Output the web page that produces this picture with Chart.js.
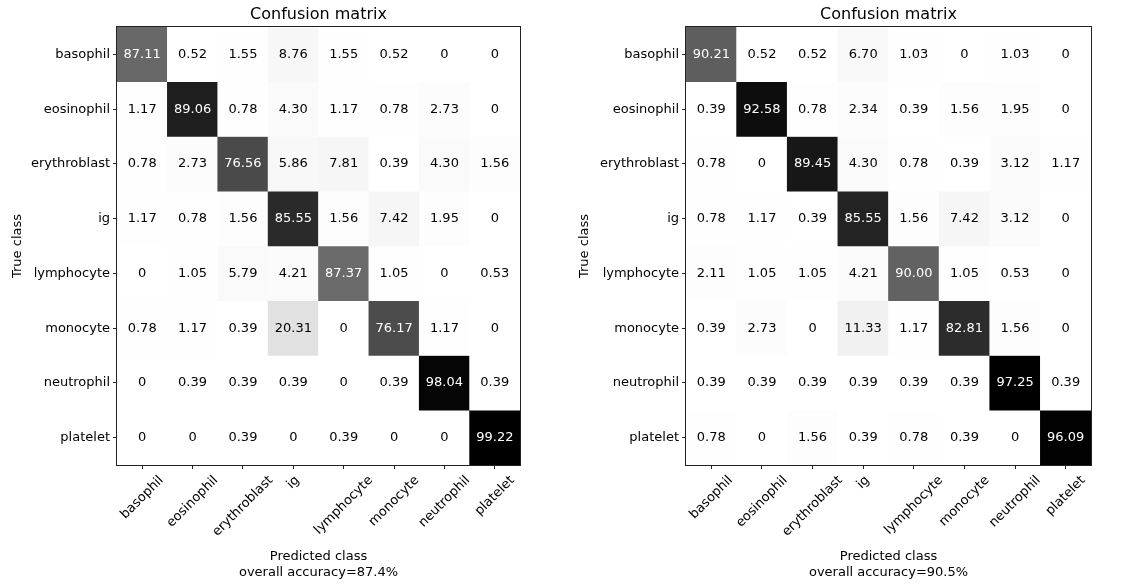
<!DOCTYPE html>
<html>
<head>
<meta charset="utf-8">
<script src="https://cdn.jsdelivr.net/npm/chart.js@4.4.0/dist/chart.umd.min.js"></script>
<style>
  html, body { margin: 0; padding: 0; background: #fff; }
  canvas { position: absolute; top: 0; }
</style>
</head>
<body>
<canvas id="cmLeft" width="567" height="587" style="left:0"></canvas>
<canvas id="cmRight" width="568" height="587" style="left:567px"></canvas>
<script>
  const classes = ['basophil', 'eosinophil', 'erythroblast', 'ig', 'lymphocyte', 'monocyte', 'neutrophil', 'platelet'];
  // test images per true class (used for the shading, like the raw counts)
  const classSizes = [194, 256, 256, 256, 190, 256, 255, 256];

  // rows = true class, columns = predicted class, in percent
  const leftMatrix = [
    [87.11, 0.52, 1.55, 8.76, 1.55, 0.52, 0, 0],
    [1.17, 89.06, 0.78, 4.30, 1.17, 0.78, 2.73, 0],
    [0.78, 2.73, 76.56, 5.86, 7.81, 0.39, 4.30, 1.56],
    [1.17, 0.78, 1.56, 85.55, 1.56, 7.42, 1.95, 0],
    [0, 1.05, 5.79, 4.21, 87.37, 1.05, 0, 0.53],
    [0.78, 1.17, 0.39, 20.31, 0, 76.17, 1.17, 0],
    [0, 0.39, 0.39, 0.39, 0, 0.39, 98.04, 0.39],
    [0, 0, 0.39, 0, 0.39, 0, 0, 99.22]
  ];
  const rightMatrix = [
    [90.21, 0.52, 0.52, 6.70, 1.03, 0, 1.03, 0],
    [0.39, 92.58, 0.78, 2.34, 0.39, 1.56, 1.95, 0],
    [0.78, 0, 89.45, 4.30, 0.78, 0.39, 3.12, 1.17],
    [0.78, 1.17, 0.39, 85.55, 1.56, 7.42, 3.12, 0],
    [2.11, 1.05, 1.05, 4.21, 90.00, 1.05, 0.53, 0],
    [0.39, 2.73, 0, 11.33, 1.17, 82.81, 1.56, 0],
    [0.39, 0.39, 0.39, 0.39, 0.39, 0.39, 97.25, 0.39],
    [0.78, 0, 1.56, 0.39, 0.78, 0.39, 0, 96.09]
  ];
  const leftAccuracy = '87.4%';
  const rightAccuracy = '90.5%';

  const FONT = 'DejaVu Sans';
  // matplotlib "Greys"
  const greyStops = [255, 240, 217, 189, 150, 115, 82, 37, 0];

  function greyFor(t) {
    t = Math.max(0, Math.min(1, t));
    const p = t * 8;
    const i = Math.min(7, Math.floor(p));
    const v = Math.round(greyStops[i] + (greyStops[i + 1] - greyStops[i]) * (p - i));
    return 'rgb(' + v + ',' + v + ',' + v + ')';
  }

  function makeChart(id, matrix, accuracy, yWidth, rightPad) {
    const counts = matrix.map((row, r) => row.map(v => Math.round(v * classSizes[r] / 100)));
    const maxCount = Math.max(...counts.flat());

    const decor = {
      id: 'decor',
      afterDatasetsDraw(chart) {
        const ctx = chart.ctx;
        const area = chart.chartArea;
        const xs = chart.scales.x;
        ctx.save();
        // cell values
        ctx.font = '13px "' + FONT + '"';
        ctx.textAlign = 'center';
        ctx.textBaseline = 'middle';
        chart.data.datasets.forEach((ds, r) => {
          chart.getDatasetMeta(r).data.forEach((bar, c) => {
            const v = matrix[r][c];
            ctx.fillStyle = counts[r][c] > maxCount / 2 ? '#fff' : '#000';
            ctx.fillText(v === 0 ? '0' : v.toFixed(2), bar.x, (bar.y + bar.base) / 2);
          });
        });
        // frame
        ctx.strokeStyle = '#222';
        ctx.lineWidth = 1;
        ctx.strokeRect(Math.round(area.left) - 0.5, Math.round(area.top) - 0.5,
          Math.round(area.right - area.left) + 1, Math.round(area.bottom - area.top) + 1);
        // title
        ctx.fillStyle = '#000';
        ctx.font = '16px "' + FONT + '"';
        ctx.fillText('Confusion matrix', (area.left + area.right) / 2, 14.5);
        // rotated x labels, centred on their ticks
        ctx.font = '13px "' + FONT + '"';
        const h = 15;
        classes.forEach((name, i) => {
          const w = ctx.measureText(name).width;
          const half = (w + h) * Math.SQRT1_2 / 2;
          ctx.save();
          ctx.translate(xs.getPixelForTick(i), area.bottom + 8 + half);
          ctx.rotate(-Math.PI / 4);
          ctx.fillText(name, 0, 0);
          ctx.restore();
        });
        ctx.restore();
      }
    };

    new Chart(document.getElementById(id), {
      type: 'bar',
      data: {
        labels: classes,
        datasets: classes.map((name, r) => ({
          label: name,
          data: classes.map(() => [r, r + 1]),
          backgroundColor: counts[r].map(n => greyFor(n / maxCount)),
          borderWidth: 0,
          barPercentage: 1,
          categoryPercentage: 1,
          grouped: false
        }))
      },
      options: {
        responsive: false,
        animation: false,
        layout: { padding: { top: 27, right: rightPad, left: 0, bottom: 0 } },
        plugins: { legend: { display: false }, tooltip: { enabled: false } },
        scales: {
          x: {
            type: 'category',
            offset: true,
            grid: { offset: false, drawOnChartArea: false, tickLength: 4, color: '#222' },
            border: { display: false },
            ticks: { display: false },
            afterFit: s => { s.height = 122; },
            title: {
              display: true,
              text: ['Predicted class', 'overall accuracy=' + accuracy],
              color: '#000',
              font: { family: FONT, size: 13, lineHeight: 1.25 },
              padding: { top: 0, bottom: 6 }
            }
          },
          y: {
            type: 'linear',
            min: 0,
            max: 8,
            reverse: true,
            afterBuildTicks: s => { s.ticks = classes.map((_, i) => ({ value: i + 0.5 })); },
            afterFit: s => { s.width = yWidth; },
            ticks: {
              callback: (v, i) => classes[i],
              color: '#000',
              font: { family: FONT, size: 13 },
              padding: 3
            },
            grid: { drawOnChartArea: false, tickLength: 4, color: '#222' },
            border: { display: false },
            title: {
              display: true,
              text: 'True class',
              color: '#000',
              font: { family: FONT, size: 13 },
              padding: { top: 10, bottom: 0 }
            }
          }
        }
      },
      plugins: [decor]
    });
  }

  makeChart('cmLeft', leftMatrix, leftAccuracy, 117, 47);
  makeChart('cmRight', rightMatrix, rightAccuracy, 119, 44);
</script>
</body>
</html>
